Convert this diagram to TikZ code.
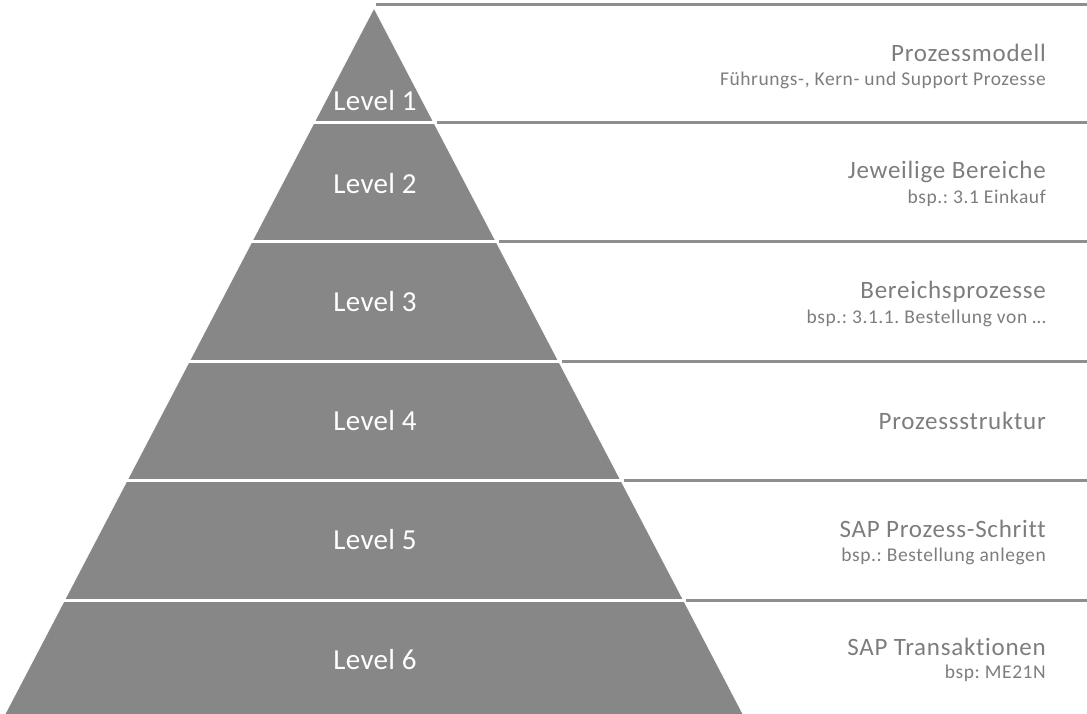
\documentclass[tikz,border=0pt]{standalone}
\usepackage{fontspec}
\setmainfont[Ligatures=NoCommon]{Carlito}
\newfontfamily\descfont[Ligatures=NoCommon,LetterSpace=3]{Carlito}
\newfontfamily\lvlfont[Ligatures=NoCommon,LetterSpace=1]{Carlito}
\definecolor{pyr}{HTML}{878787}
\definecolor{rule}{HTML}{8E8E8E}
\definecolor{txt}{HTML}{7D7D7D}
\begin{document}
\begin{tikzpicture}[x=1pt,y=-1pt,
  lvl/.style={text=white,font=\lvlfont\fontsize{29}{30}\selectfont,inner sep=0pt},
  ttl/.style={text=txt,font=\descfont\frenchspacing\fontsize{25}{27}\selectfont,anchor=east,inner sep=0pt},
  sub/.style={text=txt,font=\descfont\frenchspacing\fontsize{19.5}{21}\selectfont,anchor=east,inner sep=0pt},
  gap/.style={white,line width=3pt},
  grule/.style={rule,line width=3pt}]
\useasboundingbox (0,0) rectangle (1087,714);
% pyramid
\coordinate (apex) at (374,8);
\coordinate (bl) at (5,714);
\coordinate (br) at (743,714);
\fill[pyr] (apex) -- (br) -- (bl) -- cycle;
\draw[white,line width=0.8pt] (bl) -- (apex) -- (br);
% separators
\foreach \y/\xl/\xr in {123/313.9/434.1, 242/251.7/496.3, 361/189.5/558.5, 480/127.3/620.7, 600/64.6/683.4}{
  \draw[gap] (\xl-3,\y) -- (\xr+3,\y);
  \draw[grule] (\xr+3,\y) -- (1087,\y);
}
\draw[grule] (376,5) -- (1087,5);
% level labels
\node[lvl] (l1) at (375,101) {Level 1};
\node[lvl] (l2) at (375,184) {Level 2};
\node[lvl] (l3) at (375,302) {Level 3};
\node[lvl] (l4) at (375,421) {Level 4};
\node[lvl] (l5) at (375,540) {Level 5};
\node[lvl] (l6) at (375,660) {Level 6};
% descriptions
\node[ttl] (t1) at (1046,53) {Prozessmodell};
\node[sub] (s1) at (1046,80) {Führungs-, Kern- und Support Prozesse};
\node[ttl] (t2) at (1046,172) {Jeweilige Bereiche};
\node[sub] (s2) at (1046,198) {bsp.: 3.1 Einkauf};
\node[ttl] (t3) at (1046,292) {Bereichsprozesse};
\node[sub] (s3) at (1046,318) {bsp.: 3.1.1. Bestellung von …};
\node[ttl] (t4) at (1046,421) {Prozessstruktur};
\node[ttl] (t5) at (1046,529) {SAP Prozess-Schritt};
\node[sub] (s5) at (1046,556) {bsp.: Bestellung anlegen};
\node[ttl] (t6) at (1046,647) {SAP Transaktionen};
\node[sub] (s6) at (1046,673) {bsp: ME21N};
\end{tikzpicture}
\end{document}
